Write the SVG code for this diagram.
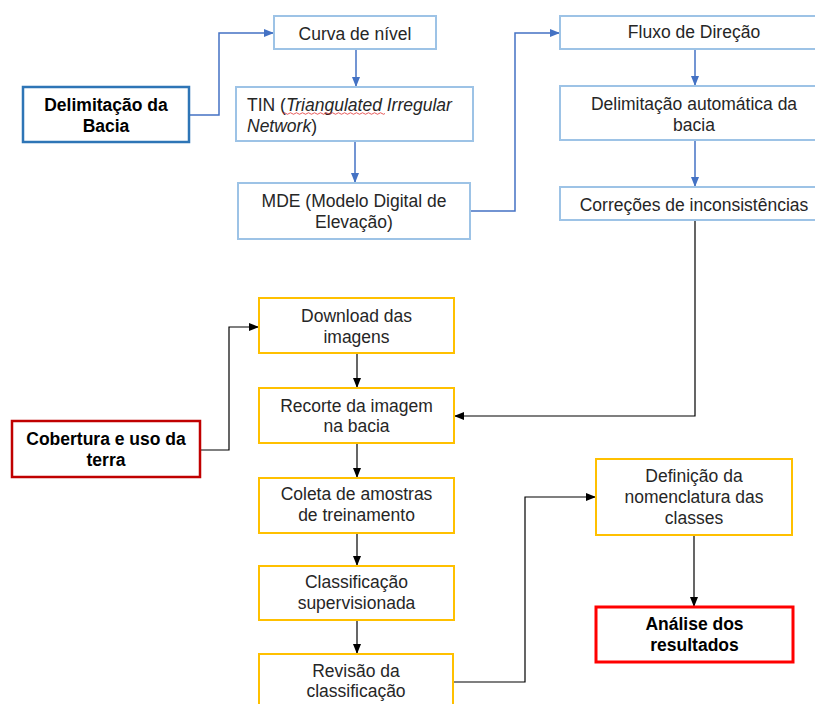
<svg xmlns="http://www.w3.org/2000/svg" width="815" height="704" viewBox="0 0 815 704">
<style>
  .t{font-family:"Liberation Sans",Arial,sans-serif;font-size:17.5px;fill:#262626;text-anchor:middle}
  .b{font-weight:bold;fill:#000}
  .l{text-anchor:start}
  .lb{fill:#fff;stroke:#9dc3e6;stroke-width:2}
  .db{fill:#fff;stroke:#2e75b6;stroke-width:2.5}
  .yb{fill:#fff;stroke:#ffc000;stroke-width:2}
  .rb{fill:#fff;stroke:#c00000;stroke-width:2.5}
  .ab{fill:#fff;stroke:#ff0000;stroke-width:3}
  .cb{fill:none;stroke:#4472c4;stroke-width:1.5}
  .ck{fill:none;stroke:#000;stroke-width:1.2}
</style>
<defs>
  <marker id="ab" markerUnits="userSpaceOnUse" markerWidth="10" markerHeight="10" viewBox="0 0 10 10" refX="10" refY="5" orient="auto">
    <path d="M0,1 L10,5 L0,9 Z" fill="#4472c4"/>
  </marker>
  <marker id="ak" markerUnits="userSpaceOnUse" markerWidth="10" markerHeight="10" viewBox="0 0 10 10" refX="10" refY="5" orient="auto">
    <path d="M0,1 L10,5 L0,9 Z" fill="#000"/>
  </marker>
</defs>
<rect width="815" height="704" fill="#fff"/>
<g id="connectors">
  <path class="cb" d="M189,115 H219 V33 H274" marker-end="url(#ab)"/>
  <path class="cb" d="M356,49 V87" marker-end="url(#ab)"/>
  <path class="cb" d="M355,141 V183" marker-end="url(#ab)"/>
  <path class="cb" d="M470,211 H515 V33 H560" marker-end="url(#ab)"/>
  <path class="cb" d="M695,49 V86" marker-end="url(#ab)"/>
  <path class="cb" d="M695,140 V187" marker-end="url(#ab)"/>
  <path class="ck" d="M695,220 V416 H454" marker-end="url(#ak)"/>
  <path class="ck" d="M200,450 H229 V327 H259" marker-end="url(#ak)"/>
  <path class="ck" d="M357,353 V388" marker-end="url(#ak)"/>
  <path class="ck" d="M357,443 V478" marker-end="url(#ak)"/>
  <path class="ck" d="M357,533 V566" marker-end="url(#ak)"/>
  <path class="ck" d="M357,620 V654" marker-end="url(#ak)"/>
  <path class="ck" d="M453,682 H525 V497 H596" marker-end="url(#ak)"/>
  <path class="ck" d="M694,535 V607" marker-end="url(#ak)"/>
</g>
<g id="delimitacao">
  <rect class="db" x="23" y="87" width="166" height="55"/>
  <text class="t b" x="106" y="111">Delimitação da</text>
  <text class="t b" x="106" y="132">Bacia</text>
</g>
<g id="curva">
  <rect class="lb" x="274" y="16" width="162" height="33"/>
  <text class="t" x="355" y="40">Curva de nível</text>
</g>
<g id="tin">
  <rect class="lb" x="236" y="87" width="237" height="54"/>
  <text class="t l" x="247" y="111">TIN (<tspan font-style="italic">Triangulated Irregular</tspan></text>
  <text class="t l" x="247" y="132"><tspan font-style="italic">Network</tspan>)</text>
  <path d="M283,113.5 q1.5,-1.5 3,0 t3,0 t3,0 t3,0 t3,0 t3,0 t3,0 t3,0 t3,0 t3,0 t3,0 t3,0 t3,0 t3,0 t3,0 t3,0 t3,0 t3,0 t3,0 t3,0 t3,0 t3,0 t3,0 t3,0 t3,0 t3,0 t3,0 t3,0 t3,0 t3,0 t3,0 t3,0 t3,0 t3,0" fill="none" stroke="#e03030" stroke-width="0.8"/>
</g>
<g id="mde">
  <rect class="lb" x="238" y="183" width="232" height="56"/>
  <text class="t" x="354" y="207">MDE (Modelo Digital de</text>
  <text class="t" x="354" y="228">Elevação)</text>
</g>
<g id="fluxo">
  <rect class="lb" x="560" y="16" width="268" height="33"/>
  <text class="t" x="694" y="38">Fluxo de Direção</text>
</g>
<g id="delimitacao-automatica">
  <rect class="lb" x="560" y="86" width="268" height="54"/>
  <text class="t" x="694" y="110">Delimitação automática da</text>
  <text class="t" x="694" y="131">bacia</text>
</g>
<g id="correcoes">
  <rect class="lb" x="560" y="187" width="268" height="33"/>
  <text class="t" x="694" y="211">Correções de inconsistências</text>
</g>
<g id="cobertura">
  <rect class="rb" x="12" y="421" width="188" height="56"/>
  <text class="t b" x="106" y="445">Cobertura e uso da</text>
  <text class="t b" x="106" y="466">terra</text>
</g>
<g id="download">
  <rect class="yb" x="259" y="298" width="195" height="55"/>
  <text class="t" x="356.5" y="322">Download das</text>
  <text class="t" x="356.5" y="343">imagens</text>
</g>
<g id="recorte">
  <rect class="yb" x="259" y="388" width="195" height="55"/>
  <text class="t" x="356.5" y="412">Recorte da imagem</text>
  <text class="t" x="356.5" y="432">na bacia</text>
</g>
<g id="coleta">
  <rect class="yb" x="259" y="478" width="195" height="55"/>
  <text class="t" x="356.5" y="500">Coleta de amostras</text>
  <text class="t" x="356.5" y="521">de treinamento</text>
</g>
<g id="classificacao">
  <rect class="yb" x="259" y="566" width="195" height="54"/>
  <text class="t" x="356.5" y="588">Classificação</text>
  <text class="t" x="356.5" y="609">supervisionada</text>
</g>
<g id="revisao">
  <rect class="yb" x="259" y="654" width="194" height="60"/>
  <text class="t" x="356" y="677">Revisão da</text>
  <text class="t" x="356" y="697">classificação</text>
</g>
<g id="definicao">
  <rect class="yb" x="596" y="459" width="196" height="76"/>
  <text class="t" x="694" y="482">Definição da</text>
  <text class="t" x="694" y="503">nomenclatura das</text>
  <text class="t" x="694" y="524">classes</text>
</g>
<g id="analise">
  <rect class="ab" x="596" y="607" width="197" height="55"/>
  <text class="t b" x="694.5" y="630">Análise dos</text>
  <text class="t b" x="694.5" y="651">resultados</text>
</g>
</svg>
